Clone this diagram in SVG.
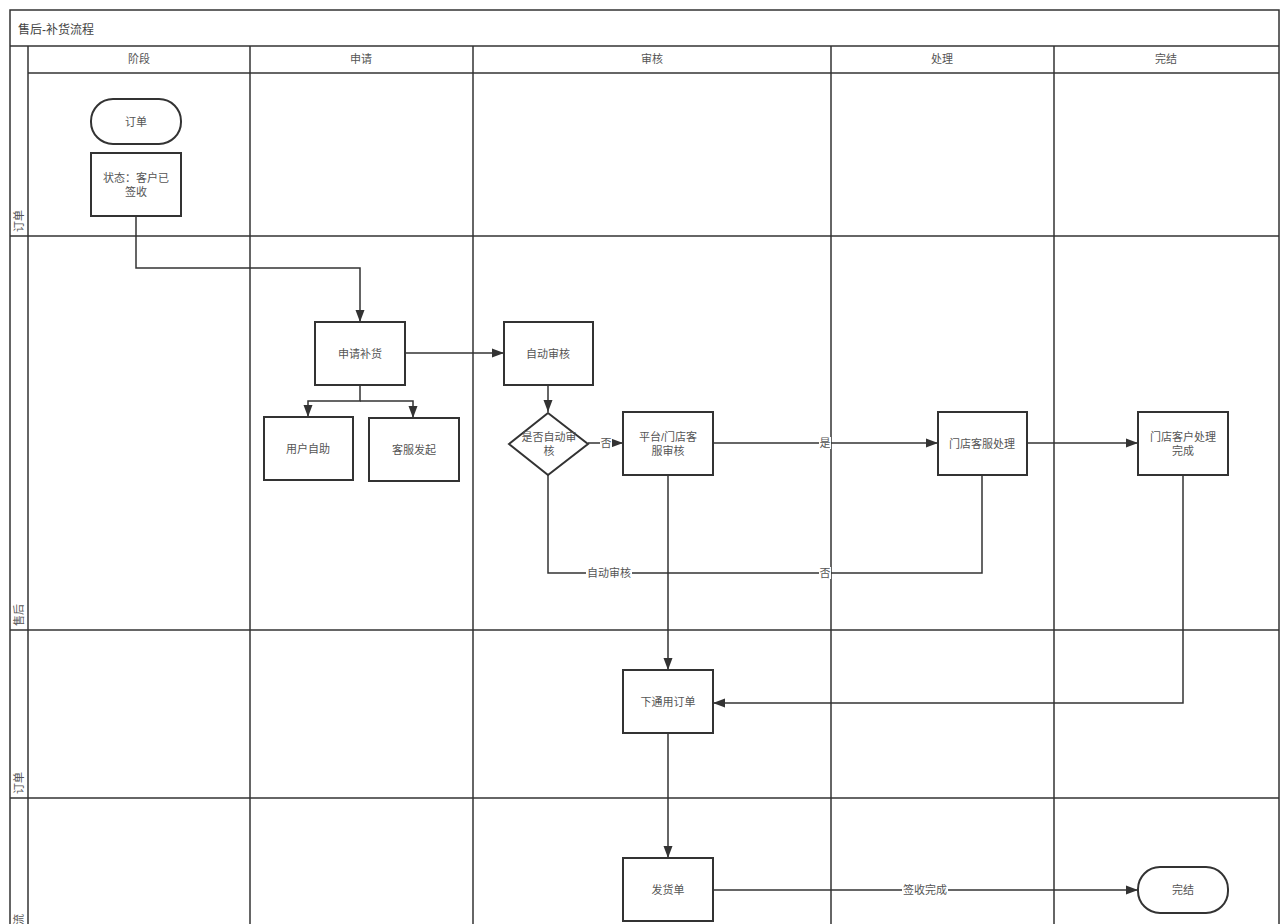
<svg xmlns="http://www.w3.org/2000/svg" width="1282" height="924" viewBox="0 0 1282 924">
<style>
text{font-family:"Liberation Sans","Noto Sans CJK SC",sans-serif;font-size:11px;fill:#555;}
.c{text-anchor:middle;dominant-baseline:central;}
.lane{fill:none;stroke:#333;stroke-width:1.5;}
.box{fill:#fff;stroke:#333;stroke-width:2;}
.edge{fill:none;stroke:#333;stroke-width:1.5;}
.lbl{fill:#fff;stroke:none;}
</style>
<defs>
<marker id="arr" viewBox="0 0 12 12" refX="12" refY="6" markerWidth="12" markerHeight="12" markerUnits="userSpaceOnUse" orient="auto">
<path d="M0,1.5 L12,6 L0,10.5 Z" fill="#333"/>
</marker>
</defs>
<rect width="1282" height="924" fill="#fff"/>
<g id="pool">
<rect class="lane" x="10" y="10" width="1269" height="930"/>
<line class="lane" x1="10" y1="46" x2="1279" y2="46"/>
<text x="18" y="30" style="font-size:12px;fill:#444" dominant-baseline="central">售后-补货流程</text>
<line class="lane" x1="28" y1="46" x2="28" y2="940"/>
<line class="lane" x1="28" y1="73" x2="1279" y2="73"/>
<line class="lane" x1="250" y1="46" x2="250" y2="940"/>
<line class="lane" x1="473" y1="46" x2="473" y2="940"/>
<line class="lane" x1="831" y1="46" x2="831" y2="940"/>
<line class="lane" x1="1054" y1="46" x2="1054" y2="940"/>
<line class="lane" x1="10" y1="236" x2="1279" y2="236"/>
<line class="lane" x1="10" y1="630" x2="1279" y2="630"/>
<line class="lane" x1="10" y1="798" x2="1279" y2="798"/>
<text class="c" x="139" y="59">阶段</text>
<text class="c" x="361" y="59">申请</text>
<text class="c" x="652" y="59">审核</text>
<text class="c" x="942" y="59">处理</text>
<text class="c" x="1166" y="59">完结</text>
<text transform="translate(19,232) rotate(-90)" dominant-baseline="central">订单</text>
<text transform="translate(19,626) rotate(-90)" dominant-baseline="central">售后</text>
<text transform="translate(19,794) rotate(-90)" dominant-baseline="central">订单</text>
<text transform="translate(19,936) rotate(-90)" dominant-baseline="central">物流</text>
</g>
<g id="connectors">
<polyline class="edge" points="136,216 136,268 360,268 360,322" marker-end="url(#arr)"/>
<line class="edge" x1="405" y1="353" x2="504" y2="353" marker-end="url(#arr)"/>
<polyline class="edge" points="360,385 360,401 308,401 308,417" marker-end="url(#arr)"/>
<polyline class="edge" points="360,401 413,401 413,418" marker-end="url(#arr)"/>
<line class="edge" x1="548" y1="385" x2="548" y2="412" marker-end="url(#arr)"/>
<line class="edge" x1="588" y1="443" x2="623" y2="443" marker-end="url(#arr)"/>
<rect class="lbl" x="600" y="437" width="12" height="12"/>
<text class="c" x="606" y="443">否</text>
<line class="edge" x1="713" y1="443" x2="938" y2="443" marker-end="url(#arr)"/>
<rect class="lbl" x="819" y="437" width="12" height="12"/>
<text class="c" x="825" y="443">是</text>
<line class="edge" x1="1027" y1="443" x2="1138" y2="443" marker-end="url(#arr)"/>
<polyline class="edge" points="982,475 982,573 548,573 548,475"/>
<rect class="lbl" x="586" y="567" width="46" height="12"/>
<text class="c" x="609" y="573">自动审核</text>
<rect class="lbl" x="819" y="567" width="12" height="12"/>
<text class="c" x="825" y="573">否</text>
<line class="edge" x1="668" y1="475" x2="668" y2="670" marker-end="url(#arr)"/>
<polyline class="edge" points="1183,475 1183,703 713,703" marker-end="url(#arr)"/>
<line class="edge" x1="668" y1="733" x2="668" y2="858" marker-end="url(#arr)"/>
<line class="edge" x1="713" y1="890" x2="1138" y2="890" marker-end="url(#arr)"/>
<rect class="lbl" x="902" y="884" width="46" height="12"/>
<text class="c" x="925" y="890">签收完成</text>
</g>
<g id="n-order"><rect class="box" x="91" y="99" width="90" height="45" rx="22"/><text class="c" x="136" y="122">订单</text></g>
<g id="n-status"><rect class="box" x="91" y="153" width="90" height="63"/><text class="c" x="136" y="178">状态：客户已</text><text class="c" x="136" y="192">签收</text></g>
<g id="n-apply"><rect class="box" x="315" y="322" width="90" height="63"/><text class="c" x="360" y="354">申请补货</text></g>
<g id="n-self"><rect class="box" x="264" y="417" width="89" height="63"/><text class="c" x="308" y="449">用户自助</text></g>
<g id="n-cs"><rect class="box" x="369" y="418" width="90" height="63"/><text class="c" x="414" y="450">客服发起</text></g>
<g id="n-auto"><rect class="box" x="504" y="322" width="89" height="63"/><text class="c" x="548" y="354">自动审核</text></g>
<g id="n-decide"><polygon class="box" points="548,413 588,444 548,475 509,444"/><text class="c" x="549" y="437">是否自动审</text><text class="c" x="549" y="451">核</text></g>
<g id="n-review"><rect class="box" x="623" y="412" width="90" height="63"/><text class="c" x="668" y="437">平台/门店客</text><text class="c" x="668" y="451">服审核</text></g>
<g id="n-handle"><rect class="box" x="938" y="412" width="89" height="63"/><text class="c" x="982" y="444">门店客服处理</text></g>
<g id="n-done"><rect class="box" x="1138" y="412" width="90" height="63"/><text class="c" x="1183" y="437">门店客户处理</text><text class="c" x="1183" y="451">完成</text></g>
<g id="n-neworder"><rect class="box" x="623" y="670" width="90" height="63"/><text class="c" x="668" y="702">下通用订单</text></g>
<g id="n-ship"><rect class="box" x="623" y="858" width="90" height="63"/><text class="c" x="668" y="890">发货单</text></g>
<g id="n-end"><rect class="box" x="1138" y="867" width="90" height="46" rx="22"/><text class="c" x="1183" y="890">完结</text></g>
</svg>
